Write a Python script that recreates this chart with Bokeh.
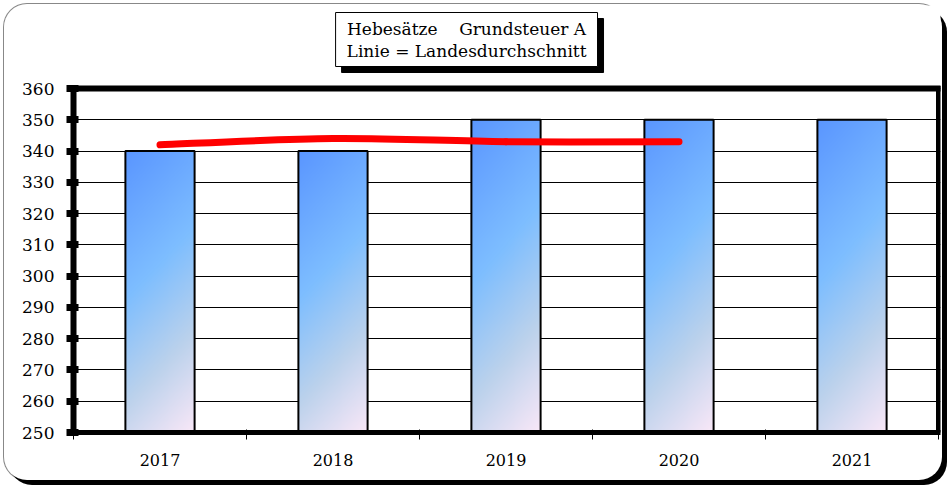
import numpy as np
from bokeh.plotting import figure
from bokeh.models import FixedTicker, Label, Range1d
from bokeh.embed import file_html
from bokeh.resources import INLINE

# ---- data ----
years = ["2017", "2018", "2019", "2020", "2021"]
hebesatz = [340, 340, 350, 350, 350]
avg_years = ["2017", "2018", "2019", "2020"]
landesdurchschnitt = [342, 344, 343, 343]
y_ticks = [250, 260, 270, 280, 290, 300, 310, 320, 330, 340, 350, 360]
title_lines = ["Hebesätze\u00a0\u00a0\u00a0\u00a0Grundsteuer A", "Linie = Landesdurchschnitt"]

# ---- positions on a numeric axis (category i centred at i + 0.5) ----
xpos = {y: i + 0.5 for i, y in enumerate(years)}
bar_x = [xpos[y] for y in years]
bar_w = 0.4
y_min, y_max = y_ticks[0], y_ticks[-1]
n_cat = len(years)

# layout (pixels): frame is extended upward so the title box sits inside it
FRAME_H, PLOT_H = 427, 344      # frame height vs. height of the 250..360 band
FRAME_W, PLOT_W = 867, 865
y_top = y_min + (y_max - y_min) * FRAME_H / PLOT_H
x_end = n_cat * FRAME_W / PLOT_W

FONT = "DejaVu Serif"

p = figure(
    width=938, height=476,
    x_range=Range1d(0, x_end), y_range=Range1d(y_min, y_top),
    output_backend="svg", toolbar_location=None,
    min_border_left=69, min_border_right=2, min_border_top=1, min_border_bottom=48,
    border_fill_color=None, background_fill_color="white",
    outline_line_color=None,
    styles={
        "position": "relative", "left": "4px", "top": "4px",
        "border-radius": "23px", "background-color": "white",
        "box-shadow": "5px 5px 0 0 #000, 0 0 0 1px #888",
    },
)

# grid
p.xgrid.grid_line_color = None
p.ygrid.ticker = FixedTicker(ticks=y_ticks)
p.ygrid.grid_line_color = "black"
p.ygrid.grid_line_width = 1

# gradient image (style only)
nx, ny = 70, 320
u = np.linspace(0, 1, nx)[None, :]
v = np.linspace(1, 0, ny)[:, None]  # row 0 is the bottom of the bar
t = np.clip(0.8 * v + 0.2 * u, 0, 1)
stops = [0.0, 0.42, 0.72, 1.0]
cols = np.array([[90, 150, 255], [126, 190, 255], [188, 210, 236], [250, 232, 248]], dtype=float)
img = np.empty((ny, nx), dtype=np.uint32)
view = img.view(dtype=np.uint8).reshape((ny, nx, 4))
for k in range(3):
    view[:, :, k] = np.interp(t, stops, cols[:, k]).astype(np.uint8)
view[:, :, 3] = 255

p.image_rgba(
    image=[img] * n_cat,
    x=[bx - bar_w / 2 for bx in bar_x],
    y=[y_min] * n_cat,
    dw=[bar_w] * n_cat,
    dh=[h - y_min for h in hebesatz],
)
p.vbar(x=bar_x, top=hebesatz, bottom=y_min, width=bar_w,
       fill_color=None, line_color="black", line_width=2)

# smoothed average line (Catmull-Rom -> Bezier from the data points)
px = [xpos[y] for y in avg_years]
py = list(landesdurchschnitt)
n = len(px)
x0, y0, x1, y1, cx0, cy0, cx1, cy1 = [], [], [], [], [], [], [], []
for i in range(n - 1):
    a = max(i - 1, 0)
    b = min(i + 2, n - 1)
    x0.append(px[i]); y0.append(py[i]); x1.append(px[i + 1]); y1.append(py[i + 1])
    cx0.append(px[i] + (px[i + 1] - px[a]) / 6); cy0.append(py[i] + (py[i + 1] - py[a]) / 6)
    cx1.append(px[i + 1] - (px[b] - px[i]) / 6); cy1.append(py[i + 1] - (py[b] - py[i]) / 6)
p.bezier(x0=x0, y0=y0, x1=x1, y1=y1, cx0=cx0, cy0=cy0, cx1=cx1, cy1=cy1,
         line_color="red", line_width=7, line_cap="round")

# plot-area border: top and right edges (left/bottom are the axes)
p.segment(x0=[0, n_cat], y0=[y_max, y_min], x1=[x_end, n_cat], y1=[y_max, y_max],
          line_color="black", line_width=[6, 5], line_cap="square")

# y axis
ya = p.yaxis[0]
ya.bounds = (y_min, y_max)
ya.ticker = FixedTicker(ticks=y_ticks)
ya.axis_line_width = 6
ya.axis_line_color = "black"
ya.major_tick_line_width = 7
ya.major_tick_out = 7
ya.major_tick_in = 5
ya.minor_tick_line_color = None
ya.major_label_standoff = 12
ya.major_label_text_font = FONT
ya.major_label_text_font_size = "17px"
ya.major_label_text_color = "black"

# x axis: labels at category centres, ticks at boundaries
xa = p.xaxis[0]
xa.ticker = FixedTicker(ticks=bar_x, minor_ticks=list(range(n_cat + 1)))
xa.major_label_overrides = {xpos[y]: y for y in years}
xa.axis_line_width = 5
xa.axis_line_color = "black"
xa.major_tick_line_color = None
xa.major_tick_out = 0
xa.major_tick_in = 0
xa.minor_tick_line_color = "black"
xa.minor_tick_line_width = 1
xa.minor_tick_out = 7
xa.minor_tick_in = 3
xa.major_label_standoff = 14
xa.major_label_text_font = FONT
xa.major_label_text_font_size = "16px"
xa.major_label_text_color = "black"

# title box with drop shadow (inside the extended frame)
title_text = "\n".join(title_lines)
common = dict(x=2.272, y=384.3, text=title_text,
              text_align="center", text_baseline="top", text_font=FONT,
              text_font_size="17px", text_line_height=1.1,
              padding=dict(left=11, right=11, top=6, bottom=6),
              border_line_width=1)
shadow = Label(x_offset=6, y_offset=-6, text_color="black",
               background_fill_color="black", border_line_color="black", **common)
box = Label(text_color="black", background_fill_color="white",
            border_line_color="black", **common)
p.add_layout(shadow)
p.add_layout(box)

open("out.html", "w").write(file_html(p, INLINE))
